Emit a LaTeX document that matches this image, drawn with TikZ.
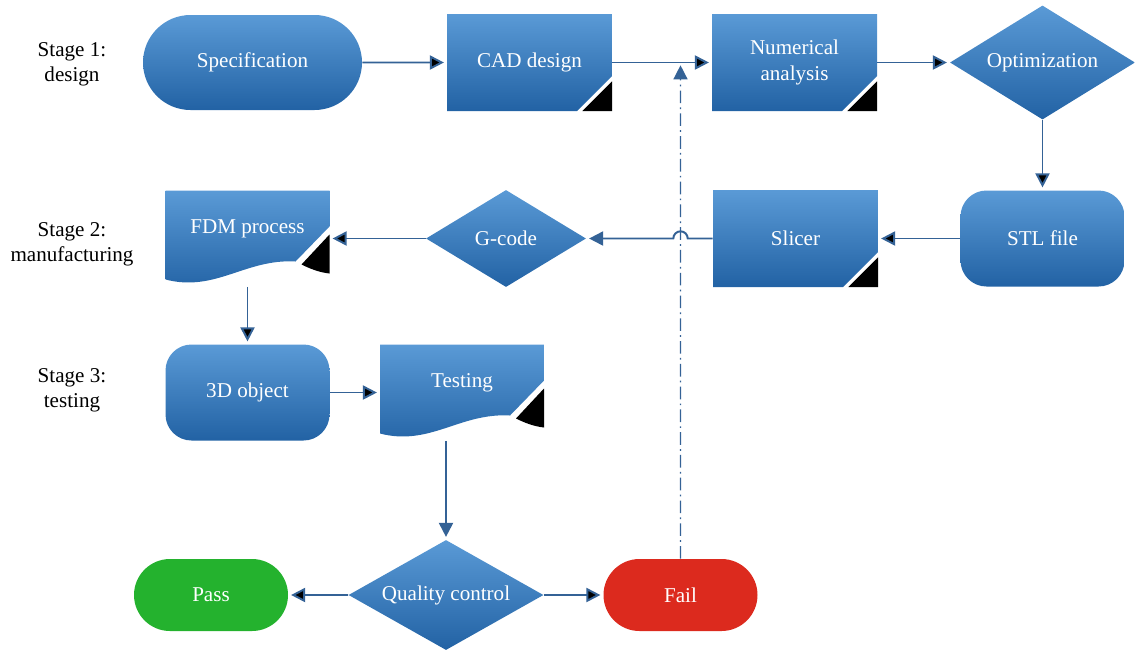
\documentclass[tikz,border=0pt]{standalone}
\usepackage{fontspec}
\setmainfont{Liberation Serif}
\usetikzlibrary{arrows.meta,shapes.geometric,shapes.misc,calc}

\definecolor{boxtop}{RGB}{90,154,214}
\definecolor{boxbot}{RGB}{34,98,164}
\definecolor{flowc}{RGB}{52,98,150}
\definecolor{passgreen}{RGB}{36,178,46}
\definecolor{failred}{RGB}{220,42,30}

\begin{document}
\begin{tikzpicture}[>={Triangle[length=10pt,width=10pt]},node distance=6cm,
    box/.style={inner sep=0pt,text=white,align=center,font=\fontsize{15}{18}\selectfont},
    bluefill/.style={top color=boxtop,bottom color=boxbot},
    term/.style={box,rounded rectangle,bluefill,minimum width=5.475cm,minimum height=2.375cm},
    endbox/.style={box,rounded rectangle,minimum width=3.85cm,minimum height=1.8cm},
    roundbox/.style={box,rectangle,rounded corners=0.65cm,bluefill,minimum width=4.1cm,minimum height=2.4cm},
    decision/.style={box,diamond,aspect=1.7,bluefill},
    card/.style={box,rectangle,minimum width=4.125cm,minimum height=2.425cm,
      path picture={
        \shade[bluefill] let \p1=(path picture bounding box.south west),
          \p2=(path picture bounding box.north east) in
          (\x1,\y1) -- (\x1,\y2) -- (\x2,\y2) -- (\x2,\y1+0.87cm) -- (\x2-0.87cm,\y1) -- cycle;
        \fill[black] let \p1=(path picture bounding box.south west),
          \p2=(path picture bounding box.north east) in
          (\x2-0.74cm,\y1) -- (\x2,\y1+0.74cm) -- (\x2,\y1) -- cycle;
      }},
    doc/.style={box,rectangle,minimum width=4.1cm,minimum height=2.4cm,
      path picture={
        \shade[bluefill] let \p1=(path picture bounding box.south west),
          \p2=(path picture bounding box.north east) in
          (\x1,\y1+0.175cm) -- (\x1,\y2) -- (\x2,\y2) -- (\x2,\y1+1.5cm) -- (\x2-0.85cm,\y1+0.625cm)
          .. controls (\x1+2cm,\y1+0.7cm) and (\x1+1.25cm,\y1-0.15cm) .. cycle;
        \fill[black] let \p1=(path picture bounding box.south west),
          \p2=(path picture bounding box.north east) in
          (\x2-0.7cm,\y1+0.55cm) -- (\x2,\y1+1.3cm) -- (\x2,\y1+0.325cm)
          .. controls (\x2-0.25cm,\y1+0.35cm) and (\x2-0.5cm,\y1+0.45cm) .. cycle;
      }},
    doctext/.style={text=white,yshift=0.25cm,font=\fontsize{15}{18}\selectfont},
    stage/.style={align=center,font=\fontsize{15}{18}\selectfont},
    flow/.style={->,draw=flowc,line width=1.4pt,shorten >=2pt},
    back/.style={line width=1pt,dash pattern=on 9pt off 3pt on 1.2pt off 3pt}]

  \useasboundingbox (0,0) rectangle (28.375,-16.3);

  % stage titles
  \node[stage] (st1) at (1.8,-1.6) {Stage 1:\\design};
  \node[stage] (st2) at (1.8,-6.1) {Stage 2:\\manufacturing};
  \node[stage] (st3) at (1.8,-9.75) {Stage 3:\\testing};

  \node[term] (spec) at (6.3125,-1.5625) {Specification};
  \node[card] (cad) [right of=spec, node distance=6.925cm] {CAD design};
  \node[card] (num) [right of=cad, node distance=6.625cm] {Numerical\\analysis};
  \node[decision,minimum width=4.625cm,minimum height=2.85cm] (opt) [right of=num, node distance=6.2cm] {Optimization};
  \node[roundbox] (stl) [below of=opt, node distance=4.4cm] {STL file};
  \node[card] (slicer) [left of=stl, node distance=6.175cm] {Slicer};
  \node[decision,minimum width=4cm,minimum height=2.425cm] (gcode) [left of=slicer, node distance=7.2375cm] {G-code};
  \node[doc,label={[doctext]center:FDM process}] (fdm) [left of=gcode, node distance=6.4625cm] {};
  \node[roundbox] (obj) [below of=fdm, node distance=3.85cm] {3D object};
  \node[doc,label={[doctext]center:Testing}] (test) [right of=obj, node distance=5.3625cm] {};
  \node[decision,minimum width=4.875cm,minimum height=2.75cm] (qc) [below of=test, node distance=5.0625cm, xshift=-0.4cm] {Quality control};
  \node[endbox,fill=passgreen] (pass) [left of=qc, node distance=5.875cm] {Pass};
  \node[endbox,fill=failred] (fail) [right of=qc, node distance=5.8625cm] {Fail};

  \coordinate (hop) at (fail.north |- slicer.west);
  \coordinate (ret) at (fail.north |- cad.east);
  \coordinate (drop) at (qc.north |- test.south);

  \draw[flow]
  (spec) edge (cad)
  (cad) edge (num)
  (num) edge (opt)
  (opt) edge (stl)
  (stl) edge (slicer)
  (gcode) edge (fdm)
  (fdm) edge (obj)
  (obj) edge (test)
  (qc) edge (pass)
  (qc) edge (fail);

  \draw[flow] (drop) -- (qc);
  \draw[flow] (slicer.west) -- ([xshift=0.18cm]hop)
    arc[start angle=0,end angle=180,radius=0.18cm] -- (gcode);
  \draw[flow,back] (fail) -- (ret);

\end{tikzpicture}
\end{document}
